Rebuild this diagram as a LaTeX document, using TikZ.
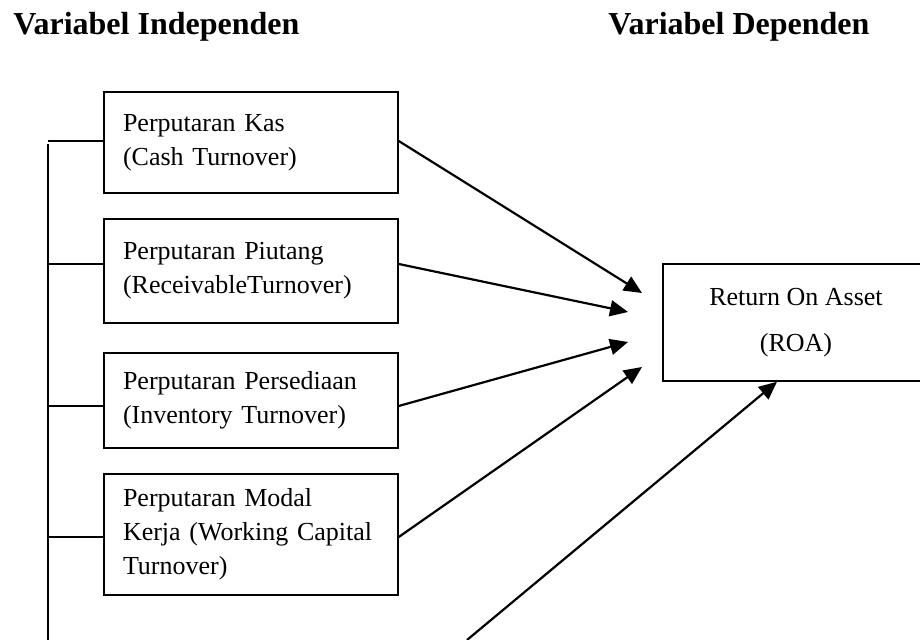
\documentclass[tikz,border=0pt]{standalone}
\usepackage{fontspec}
\setmainfont{Liberation Serif}
\usetikzlibrary{arrows.meta}

\tikzset{
	varbox/.style={draw, line width=0.75pt, text width=128pt, inner xsep=9.5pt, inner ysep=0pt,
		align=left, font=\fontsize{13}{17}\selectfont},
	judul/.style={anchor=base west, inner sep=0pt, font=\fontsize{16}{19}\selectfont\bfseries},
	garis/.style={line width=0.75pt},
	panah/.style={line width=1.1pt, -{Triangle[length=9pt,width=8pt]}}
}

\begin{document}
\begin{tikzpicture}[x=0.5pt,y=-0.5pt]
	\useasboundingbox (0,0) rectangle (920,640);
	
	\node[judul] (indep) at (13,35) {Variabel Independen};
	\node[judul] (dep) at (608,35) {Variabel Dependen};
	
	% variabel independen
	\node[varbox, minimum height=50.5pt] (kas) at (251,142.5) {Perputaran Kas\\(Cash Turnover)};
	\node[varbox, minimum height=52pt] (piu) at (251,271) {Perputaran Piutang\\(ReceivableTurnover)};
	\node[varbox, minimum height=47.5pt] (sedia) at (251,400.5) {Perputaran Persediaan\\(Inventory Turnover)};
	\node[varbox, minimum height=60.5pt] (modal) at (251,534.5) {Perputaran Modal\\Kerja (Working Capital\\Turnover)};
	
	% variabel dependen
	\node[draw, line width=0.75pt, minimum width=133pt, minimum height=58.5pt, align=center,
	font=\fontsize{13}{23}\selectfont] (roa) at (796,322.5) {Return On Asset\\(ROA)};
	
	% garis kiri
	\coordinate (busatas) at (48,144);
	\coordinate (busbawah) at (48,640);
	\coordinate (kasL) at ([yshift=0.75pt]kas.west);
	\coordinate (piuL) at ([yshift=3.5pt]piu.west);
	\coordinate (sediaL) at ([yshift=-2.75pt]sedia.west);
	\coordinate (modalL) at ([yshift=-1.25pt]modal.west);
	\draw[garis] (busatas) -- (busbawah);
	\draw[garis] (kasL) -- (kasL -| busatas);
	\draw[garis] (piuL) -- (piuL -| busatas);
	\draw[garis] (sediaL) -- (sediaL -| busatas);
	\draw[garis] (modalL) -- (modalL -| busatas);
	
	% panah ke ROA
	\coordinate (tip1) at (642,293);
	\coordinate (tip2) at (628,312);
	\coordinate (tip3) at (628,342);
	\coordinate (tip4) at (642,367);
	\coordinate (bawah) at (467,640);
	\draw[panah] ([yshift=0.75pt]kas.east) -- (tip1);
	\draw[panah] ([yshift=3.5pt]piu.east) -- (tip2);
	\draw[panah] ([yshift=-2.75pt]sedia.east) -- (tip3);
	\draw[panah] ([yshift=-1.25pt]modal.east) -- (tip4);
	\draw[panah] (bawah) -- ([xshift=-9.5pt]roa.south);
\end{tikzpicture}
\end{document}
